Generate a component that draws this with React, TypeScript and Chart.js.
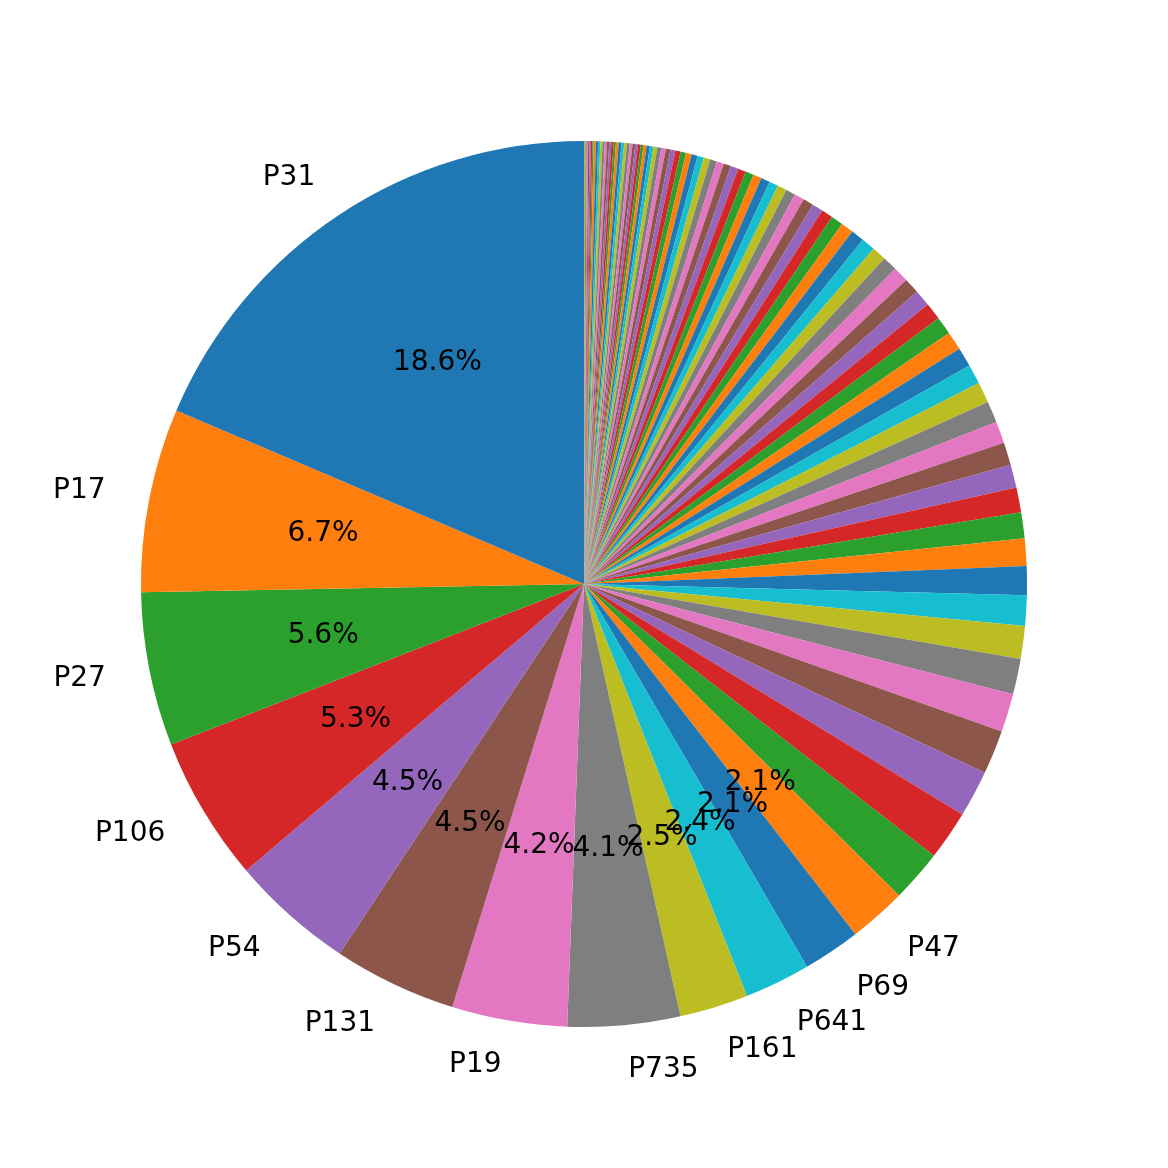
import React, { useEffect, useRef } from "react";
import { Chart, registerables } from "chart.js";
Chart.register(...registerables);

const namedLabels = ["P31","P17","P27","P106","P54","P131","P19","P735","P161","P641","P69","P47"];
const namedValues = [18.6,6.7,5.6,5.3,4.5,4.5,4.2,4.1,2.5,2.4,2.1,2.1];
const tailValues = [
  1.9,1.8,1.7,1.6,1.4,1.3,1.2,1.1,1.05,1.0,
  0.95,0.9,0.85,0.82,0.8,0.78,0.75,0.72,0.7,0.68,
  0.65,0.62,0.6,0.58,0.56,0.54,0.52,0.5,0.48,0.46,
  0.44,0.42,0.4,0.38,0.36,0.35,0.34,0.33,0.32,0.31,
  0.3,0.29,0.28,0.27,0.26,0.25,0.24,0.23,0.22,0.21,
  0.2,0.19,0.18,0.17,0.16,0.15,0.14,0.13,0.12,0.11,
  0.1,0.1,0.1,0.1,0.1,0.1,0.1,0.1,0.1,0.1,
  0.08,0.08,0.08,0.08,0.08,0.08,0.08,0.08,0.08,0.08,
  0.05,0.05,0.05,0.05,0.05,0.05,0.05,
];
const palette = ["#1f77b4","#ff7f0e","#2ca02c","#d62728","#9467bd","#8c564b","#e377c2","#7f7f7f","#bcbd22","#17becf"];

export default function App() {
  const ref = useRef<HTMLCanvasElement>(null);
  useEffect(() => {
    const values = [...namedValues, ...tailValues];
    const labels = values.map((_, i) => (i < namedLabels.length ? namedLabels[i] : ""));
    const colors = values.map((_, i) => palette[i % 10]);
    const total = values.reduce((a, b) => a + b, 0);
    const rv = [...values].reverse();
    const rl = [...labels].reverse();
    const rc = [...colors].reverse();
    const textPlugin = {
      id: "txt",
      afterDraw(chart: any) {
        const ctx = chart.ctx;
        const meta = chart.getDatasetMeta(0);
        ctx.save();
        ctx.font = '28px "DejaVu Sans"';
        ctx.fillStyle = "#000";
        ctx.textBaseline = "middle";
        meta.data.forEach((arc: any, i: number) => {
          const lab = rl[i];
          if (!lab) return;
          const p = arc.getProps(["x","y","startAngle","endAngle","outerRadius"], true);
          const a = (p.startAngle + p.endAngle) / 2;
          const r = p.outerRadius;
          const lx = p.x + Math.cos(a) * r * 1.1, ly = p.y + Math.sin(a) * r * 1.1;
          ctx.textAlign = Math.cos(a) >= 0 ? "left" : "right";
          ctx.fillText(lab, lx, ly);
          ctx.textAlign = "center";
          const pct = ((rv[i] / total) * 100).toFixed(1) + "%";
          ctx.fillText(pct, p.x + Math.cos(a) * r * 0.6, p.y + Math.sin(a) * r * 0.6);
        });
        ctx.restore();
      },
    };
    const chart = new Chart(ref.current!, {
      type: "pie",
      data: { labels: rl, datasets: [{ data: rv, backgroundColor: rc, borderWidth: 0 }] },
      options: {
        responsive: false,
        animation: false,
        layout: { padding: 141 },
        plugins: { legend: { display: false }, tooltip: { enabled: false } },
      },
      plugins: [textPlugin],
    });
    return () => chart.destroy();
  }, []);
  return (
    <div style={{ position: "fixed", left: 0, top: 0, width: 1168, height: 1168, background: "#fff" }}>
      <canvas ref={ref} width={1168} height={1168} />
    </div>
  );
}
